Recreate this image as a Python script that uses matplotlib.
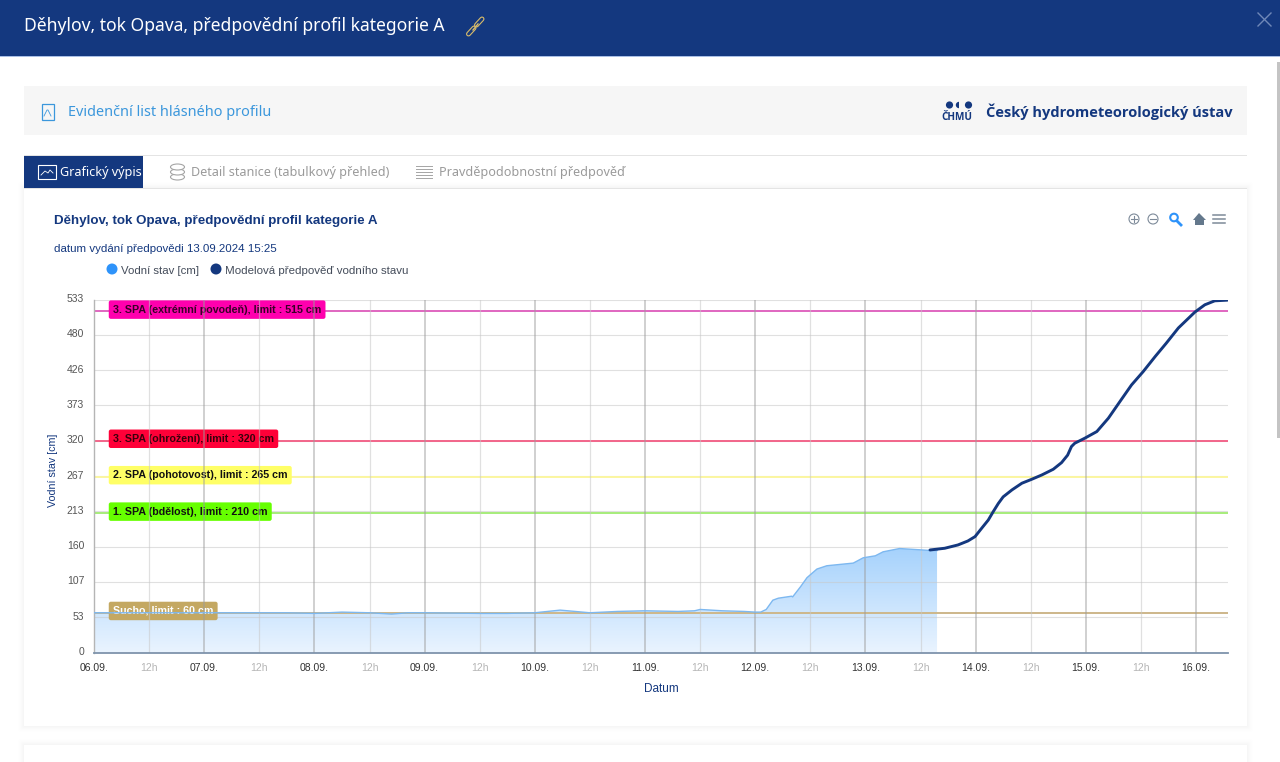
import numpy as np
import matplotlib
matplotlib.use("Agg")
import matplotlib.pyplot as plt
from matplotlib.patches import Rectangle, Circle, FancyBboxPatch, Polygon, Wedge, Ellipse
from matplotlib.transforms import ScaledTranslation

# ---------- data ----------
TITLE = "Děhylov, tok Opava, předpovědní profil kategorie A"
y_ticks = [0, 53.3, 106.6, 159.9, 213.2, 266.5, 319.8, 373.1, 426.4, 479.7, 533]
y_labels = ["0", "53", "107", "160", "213", "267", "320", "373", "426", "480", "533"]
day_labels = ["06.09.", "07.09.", "08.09.", "09.09.", "10.09.", "11.09.",
              "12.09.", "13.09.", "14.09.", "15.09.", "16.09."]
obs_day = [0, .25, .5, .75, 1, 1.25, 1.5, 1.75, 2, 2.25, 2.5, 2.6, 2.7, 2.85, 3, 3.5,
           3.75, 4, 4.23, 4.5, 4.75, 5, 5.3, 5.45, 5.5, 5.7, 5.9, 6, 6.05, 6.10, 6.16, 6.21, 6.33, 6.34,
           6.41, 6.47, 6.56, 6.65, 6.77, 6.89, 6.98, 7.09, 7.16, 7.31, 7.5, 7.59, 7.65]
obs_cm = [60, 60, 60, 60, 60, 60, 60, 60, 59, 61, 60, 59, 58, 60, 60, 59,
          59, 60, 64, 60, 62, 63, 62, 63, 65, 63, 62, 61, 61, 65, 79, 82, 85, 84,
          99, 113, 126, 131, 133, 135, 143, 146, 152, 157, 155, 154, 154]
fc_day = [7.586, 7.72, 7.84, 7.93, 7.995, 8.055, 8.115, 8.16, 8.206, 8.25, 8.33, 8.42, 8.51,
          8.60, 8.705, 8.78, 8.835, 8.87, 8.90, 8.99, 9.10, 9.205, 9.31, 9.415, 9.52, 9.63,
          9.73, 9.84, 9.99, 10.08, 10.17, 10.285]
fc_cm = [154.8, 157.4, 162.4, 168.4, 175, 187.6, 200, 212.7, 225, 235, 245.5, 255.6, 261.6,
         268, 276.7, 286.7, 298, 311, 316, 323.5, 333.6, 353.8, 379, 404, 424, 447,
         467, 490, 514, 525, 531, 532]
limit_vals = [515, 320, 265, 210, 60]
limit_names = ["3. SPA (extrémní povodeň), limit : 515 cm", "3. SPA (ohrožení), limit : 320 cm",
               "2. SPA (pohotovost), limit : 265 cm", "1. SPA (bdělost), limit : 210 cm",
               "Sucho, limit : 60 cm"]
limit_box = ["#FF00AE", "#FF0038", "#FFFF66", "#66FF00", "#C4A862"]
limit_line = ["#E066C0", "#F2658A", "#FBF6A0", "#A6EC7A", "#CDB78A"]
limit_txt = ["#3a0028", "#3a000c", "#111111", "#111111", "#ffffff"]

W, H = 1280, 762
NAVY = "#14387F"
plt.rcParams["font.family"] = ["Liberation Sans", "DejaVu Sans"]
px = 0.72
fig = plt.figure(figsize=(W / 100, H / 100), dpi=100, facecolor="white")

# ---------- page chrome (pixel coordinates) ----------
bg = fig.add_axes([0, 0, 1, 1], zorder=0)
bg.set_xlim(0, W); bg.set_ylim(H, 0); bg.axis("off")
def rect(x0, y0, x1, y1, c, **k):
    bg.add_patch(Rectangle((x0, y0), x1 - x0, y1 - y0, fc=c, ec="none", **k))
def txt(x, y, s, size, c, fam="Noto Sans", **k):
    k.setdefault("va", "center")
    bg.text(x, y, s, fontsize=size * px, color=c, family=fam, **k)

rect(0, 0, W, 56, NAVY)
rect(0, 56, W, 57, "#a9bfe6")
txt(24, 26, TITLE, 17.5, "white")
# link icon
for xs, ys in (([468.5, 474], [34, 28]), ([476.5, 482], [25, 19])):
    bg.plot(xs, ys, color="#D9BC6A", lw=3.6, solid_capstyle="round")
    bg.plot(xs, ys, color=NAVY, lw=2.0, solid_capstyle="round")
bg.plot([473, 478], [30, 24], color="#D9BC6A", lw=1.0)
# close
bg.plot([1258, 1271], [13, 26], color="#6f88b8", lw=1)
bg.plot([1271, 1258], [13, 26], color="#6f88b8", lw=1)
# scrollbar
rect(1277, 62, 1280, 438, "#c4c4c4")
# top band
rect(24, 86, 1247, 135, "#F6F6F6")
bg.add_patch(Rectangle((41.5, 103.5), 12, 16, fc="none", ec="#3B97DC", lw=0.9))
bg.plot([44, 47, 48, 51], [116, 110, 110, 116], color="#3B97DC", lw=0.6)
txt(68, 112, "Evidenční list hlásného profilu", 14.45, "#3B97DC")
txt(986, 112, "Český hydrometeorologický ústav", 14.6, NAVY, fam="Open Sans", weight="bold")
bg.add_patch(Circle((949.5, 105), 3.6, fc=NAVY, ec="none"))
bg.add_patch(Wedge((959, 105), 3.2, 90, 270, fc=NAVY, ec="none"))
bg.add_patch(Circle((968.5, 105), 3.6, fc=NAVY, ec="none"))
txt(957, 118, "ČHMÚ", 10, NAVY, fam="Open Sans", ha="center", weight="bold")

# card shadow
for i, a in zip(range(6, 0, -1), [.003, .004, .005, .006, .007, .008]):
    bg.add_patch(FancyBboxPatch((24 - i, 188 - i), 1223 + 2 * i, 538 + 2 * i,
                                boxstyle="round,pad=0,rounding_size=2", fc="#000000", ec="none", alpha=a))
    bg.add_patch(FancyBboxPatch((24 - i, 745 - i), 1223 + 2 * i, 40,
                                boxstyle="round,pad=0,rounding_size=2", fc="#000000", ec="none", alpha=a))
rect(24, 188, 1247, 726, "white")
rect(24, 745, 1247, 790, "white")
# tabs
rect(24, 155, 1247, 156, "#E4E4E4")
rect(24, 187.5, 1247, 189, "#E4E4E4")
rect(24, 156, 143, 188, NAVY)
bg.add_patch(Rectangle((38, 165), 18, 14, fc="none", ec="white", lw=0.8))
bg.plot([41, 45, 48, 50, 53], [175, 171, 173, 170, 173], color="white", lw=0.6)
txt(60, 172.5, "Grafický výpis", 12.6, "white")
txt(191, 172.5, "Detail stanice (tabulkový přehled)", 12.6, "#9a9a9a")
txt(439, 172.5, "Pravděpodobnostní předpověď", 12.6, "#9a9a9a")
for yy in (177, 172, 167):
    bg.add_patch(Ellipse((177.5, yy), 14, 6, fc="white", ec="#a5a5a5", lw=0.8))
for yy in (166, 169, 172, 175, 178):
    bg.plot([416, 432], [yy, yy], color="#a5a5a5", lw=0.7)
# chart heading
txt(54, 221, TITLE, 13.45, NAVY, fam="Liberation Sans", weight="bold")
txt(54, 249, "datum vydání předpovědi 13.09.2024 15:25", 11.5, NAVY, fam="Liberation Sans")
# legend
bg.add_patch(Circle((112, 269), 5.5, fc="#2E93FA", ec="none"))
txt(121, 271, "Vodní stav [cm]", 11.4, "#444c5a", fam="Liberation Sans")
bg.add_patch(Circle((216, 269), 5.5, fc=NAVY, ec="none"))
txt(225, 271, "Modelová předpověď vodního stavu", 11.5, "#444c5a", fam="Liberation Sans")
# toolbar
for cx, sym in ((1134, "+"), (1153, "-")):
    bg.add_patch(Circle((cx, 219), 5, fc="none", ec="#7d8a99", lw=0.8))
    bg.plot([cx - 3, cx + 3], [219, 219], color="#7d8a99", lw=0.8)
    if sym == "+":
        bg.plot([cx, cx], [216, 222], color="#7d8a99", lw=0.8)
bg.add_patch(Circle((1174, 217.5), 3.8, fc="none", ec="#2E93FA", lw=1.5))
bg.plot([1177, 1181], [221, 225], color="#2E93FA", lw=2)
bg.add_patch(Polygon([[1193, 220], [1199, 213], [1206, 220]], fc="#64788c", ec="none"))
rect(1195, 220, 1204, 225, "#64788c")
for yy in (215, 219, 223):
    bg.plot([1213, 1225], [yy, yy], color="#7d8a99", lw=1.1)

# ---------- chart ----------
L, R, T, B = 94, 1228, 299.5, 652.5
ax = fig.add_axes([L / W, 1 - B / H, (R - L) / W, (B - T) / H], zorder=1)
ax.patch.set_alpha(0)
day_px = 110.2
xmax = (R - L) / day_px
for s in ("top", "right"):
    ax.spines[s].set_visible(False)
ax.spines["left"].set_color("#b5b5b5"); ax.spines["left"].set_linewidth(1)
ax.spines["bottom"].set_color("#7E93AB"); ax.spines["bottom"].set_linewidth(1.3)
ax.spines["bottom"].set_zorder(6)

# area with vertical gradient
grad = np.linspace(0, 1, 256).reshape(-1, 1)
c_top = np.array([0xA6, 0xD2, 0xFC]) / 255
c_bot = np.array([0xEA, 0xF4, 0xFF]) / 255
img = c_top + (c_bot - c_top) * grad[..., None]
im = ax.imshow(img, extent=[0, obs_day[-1], 0, max(obs_cm)], aspect="auto", zorder=1, origin="upper")
clip = Polygon(np.column_stack([[0] + obs_day + [obs_day[-1]], [0] + obs_cm + [0]]), transform=ax.transData)
im.set_clip_path(clip)
ax.set_xlim(0, xmax); ax.set_ylim(0, 533)

for v, c in zip(limit_vals, limit_line):
    ax.axhline(v, color=c, lw=1.4, zorder=1.5)
ax.plot(obs_day, obs_cm, color="#7DB8F0", lw=1.0, zorder=4)
ax.plot(fc_day, fc_cm, color=NAVY, lw=2.1, zorder=5, solid_capstyle="round", solid_joinstyle="round")

# grid
ax.set_yticks(y_ticks, y_labels)
ax.set_xticks(range(len(day_labels)), day_labels)
ax.set_xticks(np.arange(0.5, 10.5, 1), ["12h"] * 10, minor=True)
for yv in y_ticks[1:]:
    ax.axhline(yv, color="#C8C8C8", lw=0.8, alpha=.55, zorder=1.2)
for d in range(1, len(day_labels)):
    ax.axvline(d, color="#9c9c9c", lw=1.1, alpha=.6, zorder=3)
for d in np.arange(0.5, 10.5, 1):
    ax.axvline(d, color="#C8C8C8", lw=0.9, alpha=.55, zorder=3)
ax.tick_params(axis="both", which="both", length=0)
ax.tick_params(axis="y", labelsize=10.4 * px, labelcolor="#555555", pad=7)
ax.tick_params(axis="x", which="major", labelsize=10.4 * px, labelcolor="#333333", pad=7.5)
ax.tick_params(axis="x", which="minor", labelsize=10.4 * px, labelcolor="#b5b5b5", pad=7.5)
shift = ScaledTranslation(0, 1.5 / 100, fig.dpi_scale_trans)
for lab in ax.get_yticklabels():
    lab.set_transform(lab.get_transform() + shift)
ax.set_xlabel("Datum", fontsize=11.8 * px, color=NAVY, labelpad=7)
ax.set_ylabel("Vodní stav [cm]", fontsize=10.6 * px, color=NAVY, labelpad=6, y=0.515)

for v, name, bc, tc in zip(limit_vals, limit_names, limit_box, limit_txt):
    ax.annotate(name, xy=(0, v), xytext=(19 * px, 1.8 * px), textcoords="offset points",
                fontsize=10.6 * px, color=tc, weight="bold", va="center", ha="left", zorder=2,
                bbox=dict(boxstyle="round,pad=0.4,rounding_size=0.2", fc=bc, ec="none"))

fig.savefig("out.png", dpi=100)
